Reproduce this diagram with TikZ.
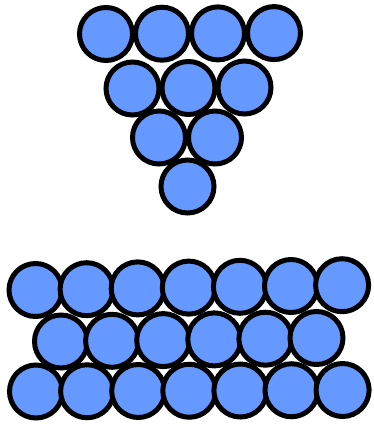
\documentclass[tikz,border=0pt]{standalone}
\definecolor{ballblue}{HTML}{6699FF}
\begin{document}
\begin{tikzpicture}[x=1pt,y=-1pt,
  ball/.style={circle,draw=black,fill=ballblue,line width=5pt,minimum size=53pt,inner sep=0pt,outer sep=0pt}]
\useasboundingbox (0,0) rectangle (373,425);
% top triangle
\foreach \i in {0,...,3} \node[ball] (ta\i) at ({106+56*\i},{34-0.3*\i}) {};
\foreach \i in {0,...,2} \node[ball] (tb\i) at ({132.5+56*\i},{88.5-0.5*\i}) {};
\foreach \i in {0,...,1} \node[ball] (tc\i) at ({159+56*\i},137.5) {};
\node[ball] (td0) at (187.5,186.5) {};
% bottom block
\foreach \i in {0,...,6} \node[ball] (ba\i) at ({35.5+51.1*\i},{290-0.8*\i}) {};
\foreach \i in {0,...,5} \node[ball] (bb\i) at ({61+51.1*\i},{341.5-0.7*\i}) {};
\foreach \i in {0,...,6} \node[ball] (bc\i) at ({36+51.1*\i},{391.5-0.25*\i}) {};
\end{tikzpicture}
\end{document}
